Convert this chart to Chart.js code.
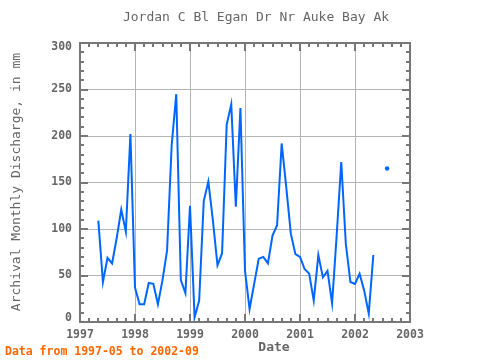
<!DOCTYPE html>
<html>
<head>
<meta charset="utf-8">
<script src="https://cdn.jsdelivr.net/npm/chart.js@4/dist/chart.umd.min.js"></script>
<style>
  html, body { margin: 0; padding: 0; background: #ffffff; }
  #wrap { position: relative; width: 480px; height: 360px; }
  canvas { display: block; }
</style>
</head>
<body>
<div id="wrap"><canvas id="c" width="480" height="360"></canvas></div>
<script>
// ---- data ----
const months = [
  "1997-05","1997-06","1997-07","1997-08","1997-09","1997-10","1997-11","1997-12",
  "1998-01","1998-02","1998-03","1998-04","1998-05","1998-06","1998-07","1998-08","1998-09","1998-10","1998-11","1998-12",
  "1999-01","1999-02","1999-03","1999-04","1999-05","1999-06","1999-07","1999-08","1999-09","1999-10","1999-11","1999-12",
  "2000-01","2000-02","2000-03","2000-04","2000-05","2000-06","2000-07","2000-08","2000-09","2000-10","2000-11","2000-12",
  "2001-01","2001-02","2001-03","2001-04","2001-05","2001-06","2001-07","2001-08","2001-09","2001-10","2001-11","2001-12",
  "2002-01","2002-02","2002-03","2002-04","2002-05","2002-06","2002-07","2002-08","2002-09"
];
const discharge = [
  109, 43, 69, 63, 90, 121, 97, 202,
  37, 19, 19, 42, 41, 19, 45, 77, 190, 245, 45, 31,
  125, 5, 23, 130, 151, 109, 61, 74, 212, 234, 124, 230,
  55, 14, 41, 68, 70, 63, 93, 104, 192, 145, 95, 73,
  70, 57, 52, 23, 72, 48, 55, 20, 93, 172, 84, 43,
  41, 52, 34, 9, 72, null, null, 165, null
];
const yearTicks = [1997, 1998, 1999, 2000, 2001, 2002, 2003];
const yTicks = [0, 50, 100, 150, 200, 250, 300];

const titleText = "Jordan C Bl Egan Dr Nr Auke Bay Ak";
const yTitleText = "Archival Monthly Discharge, in mm";
const xTitleText = "Date";
const footerText = "Data from 1997-05 to 2002-09";

// ---- build points ----
const points = months.map((m, i) => {
  const [yy, mm] = m.split("-").map(Number);
  return { x: yy + (mm - 1) / 12, y: discharge[i] };
});

const MONO = '"DejaVu Sans Mono", "Liberation Mono", monospace';
const GREY = '#666666';
const FRAME = '#777777';

const decorPlugin = {
  id: 'decor',
  afterDraw(chart) {
    const ctx = chart.ctx;
    const a = chart.chartArea;
    const xs = chart.scales.x, ys = chart.scales.y;
    ctx.save();
    // frame
    ctx.strokeStyle = FRAME;
    ctx.lineWidth = 2;
    ctx.strokeRect(a.left, a.top, a.right - a.left, a.bottom - a.top);
    // inside ticks on y (left & right)
    for (let v = 0; v <= 300; v += 10) {
      const p = Math.round(ys.getPixelForValue(v));
      const len = (v % 50 === 0) ? 8 : 4;
      ctx.beginPath();
      ctx.moveTo(a.left, p); ctx.lineTo(a.left + len, p);
      ctx.moveTo(a.right, p); ctx.lineTo(a.right - len, p);
      ctx.stroke();
    }
    // inside ticks on x (top & bottom), every two months
    for (let k = 0; k <= 36; k++) {
      const v = 1997 + k * 2 / 12;
      const p = Math.round(xs.getPixelForValue(v));
      const len = (k % 6 === 0) ? 8 : 4;
      ctx.beginPath();
      ctx.moveTo(p, a.top); ctx.lineTo(p, a.top + len);
      ctx.moveTo(p, a.bottom); ctx.lineTo(p, a.bottom - len);
      ctx.stroke();
    }
    // y tick labels (nudged inside at the ends like the reference)
    ctx.fillStyle = GREY;
    ctx.textBaseline = 'middle';
    ctx.textAlign = 'right';
    ctx.font = 'bold 11.5px ' + MONO;
    yTicks.forEach(v => {
      let p = ys.getPixelForValue(v);
      if (v === 300) p += 4;
      if (v === 0) p -= 4;
      ctx.fillText(String(v), a.left - 8, p);
    });
    // texts
    ctx.textAlign = 'center';
    ctx.font = '13px ' + MONO;
    ctx.fillText(titleText, 256, 18);
    ctx.font = 'bold 13px ' + MONO;
    ctx.fillText(xTitleText, 274, 348);
    ctx.save();
    ctx.translate(17, 182);
    ctx.rotate(-Math.PI / 2);
    ctx.font = '13px ' + MONO;
    ctx.fillText(yTitleText, 0, 0);
    ctx.restore();
    ctx.fillStyle = '#ff6600';
    ctx.textAlign = 'left';
    ctx.font = 'bold 11.5px ' + MONO;
    ctx.fillText(footerText, 5, 352);
    ctx.restore();
  }
};

new Chart(document.getElementById('c'), {
  type: 'line',
  data: {
    datasets: [{
      data: points,
      borderColor: '#0066ff',
      backgroundColor: '#0066ff',
      borderWidth: 2,
      spanGaps: false,
      tension: 0,
      pointStyle: 'circle',
      pointBorderWidth: 0,
      pointRadius: (c) => {
        const i = c.dataIndex;
        const d = c.dataset.data;
        if (d[i] == null || d[i].y == null) return 0;
        const prev = i > 0 ? d[i - 1].y : null;
        const next = i < d.length - 1 ? d[i + 1].y : null;
        return (prev == null && next == null) ? 2.2 : 0;
      }
    }]
  },
  options: {
    responsive: false,
    animation: false,
    devicePixelRatio: 1,
    layout: { padding: { top: 43, right: 70, left: 0, bottom: 0 } },
    plugins: { legend: { display: false }, tooltip: { enabled: false }, title: { display: false } },
    scales: {
      x: {
        type: 'linear',
        min: 1997, max: 2003,
        afterFit: (s) => { s.height = 38; },
        afterBuildTicks: (s) => { s.ticks = yearTicks.map(v => ({ value: v })); },
        grid: { color: '#b4b4b4', lineWidth: 1, drawTicks: false },
        border: { display: false },
        ticks: {
          padding: 6,
          color: GREY,
          font: { family: MONO, size: 11.5, weight: 'bold' },
          maxRotation: 0,
          autoSkip: false,
          callback: (v) => String(v)
        }
      },
      y: {
        type: 'linear',
        min: 0, max: 300,
        afterFit: (s) => { s.width = 80; },
        afterBuildTicks: (s) => { s.ticks = yTicks.map(v => ({ value: v })); },
        grid: { color: '#b4b4b4', lineWidth: 1, drawTicks: false },
        border: { display: false },
        ticks: { display: false }
      }
    }
  },
  plugins: [decorPlugin]
});
</script>
</body>
</html>
